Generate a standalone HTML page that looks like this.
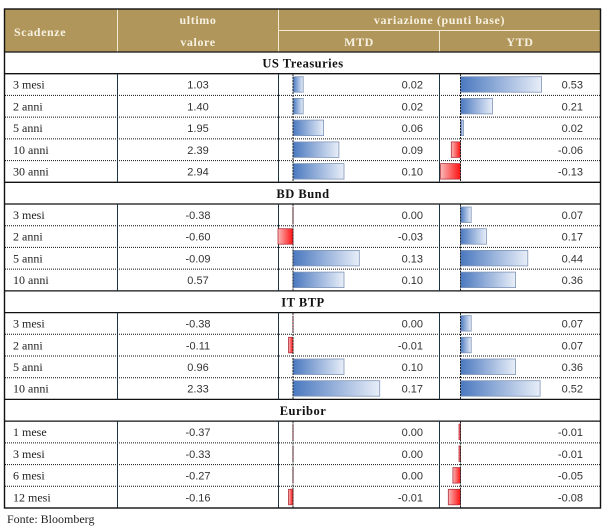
<!DOCTYPE html>
<html><head><meta charset="utf-8"><style>
html,body{margin:0;padding:0;background:#fff;}
svg{display:block;}
.h{font-family:"Liberation Serif",serif;font-weight:bold;font-size:12px;fill:#f7f1e2;letter-spacing:0.6px;}
.t{font-family:"Liberation Serif",serif;font-weight:bold;font-size:12.5px;fill:#111;letter-spacing:0.5px;}
.n{font-family:"Liberation Serif",serif;font-size:12px;fill:#222;}
.v{font-family:"Liberation Sans",sans-serif;font-size:11px;fill:#333;}
</style></head><body>
<svg width="605" height="531" viewBox="0 0 605 531" xmlns="http://www.w3.org/2000/svg">
<defs>
<linearGradient id="gb" x1="0" y1="0" x2="1" y2="0"><stop offset="0" stop-color="#4a78bf"/><stop offset="1" stop-color="#e8eef8"/></linearGradient>
<linearGradient id="gr" x1="1" y1="0" x2="0" y2="0"><stop offset="0" stop-color="#ff1010"/><stop offset="1" stop-color="#f8b8b8"/></linearGradient>
</defs>
<!-- header -->
<rect x="4.5" y="9" width="596" height="43" fill="#b0965a"/>
<g stroke="#f3ead2" stroke-width="1">
<line x1="117.5" y1="9" x2="117.5" y2="52"/>
<line x1="278.5" y1="9" x2="278.5" y2="52"/>
<line x1="278.5" y1="30.5" x2="600.5" y2="30.5"/>
<line x1="439.5" y1="30.5" x2="439.5" y2="52"/>
</g>
<text class="h" x="14" y="36">Scadenze</text>
<text class="h" x="198" y="24" text-anchor="middle">ultimo</text>
<text class="h" x="198" y="46" text-anchor="middle">valore</text>
<text class="h" x="439.5" y="24" text-anchor="middle">variazione (punti base)</text>
<text class="h" x="359" y="46" text-anchor="middle">MTD</text>
<text class="h" x="520" y="46" text-anchor="middle">YTD</text>

<!-- solid lines -->
<g stroke="#111" stroke-width="1.3">
<line x1="4.5" y1="52" x2="600.5" y2="52"/>
<line x1="4.5" y1="73.7" x2="600.5" y2="73.7"/>
<line x1="4.5" y1="182.3" x2="600.5" y2="182.3"/>
<line x1="4.5" y1="204" x2="600.5" y2="204"/>
<line x1="4.5" y1="290.9" x2="600.5" y2="290.9"/>
<line x1="4.5" y1="312.6" x2="600.5" y2="312.6"/>
<line x1="4.5" y1="399.4" x2="600.5" y2="399.4"/>
<line x1="4.5" y1="421.1" x2="600.5" y2="421.1"/>
</g>
<!-- dotted lines -->
<g stroke="#111" stroke-width="1" stroke-dasharray="1 1">
<line x1="5" y1="95.4" x2="600" y2="95.4"/>
<line x1="5" y1="117.1" x2="600" y2="117.1"/>
<line x1="5" y1="138.9" x2="600" y2="138.9"/>
<line x1="5" y1="160.6" x2="600" y2="160.6"/>
<line x1="5" y1="225.7" x2="600" y2="225.7"/>
<line x1="5" y1="247.4" x2="600" y2="247.4"/>
<line x1="5" y1="269.1" x2="600" y2="269.1"/>
<line x1="5" y1="334.3" x2="600" y2="334.3"/>
<line x1="5" y1="356" x2="600" y2="356"/>
<line x1="5" y1="377.7" x2="600" y2="377.7"/>
<line x1="5" y1="442.9" x2="600" y2="442.9"/>
<line x1="5" y1="464.6" x2="600" y2="464.6"/>
<line x1="5" y1="486.3" x2="600" y2="486.3"/>
</g>
<!-- vertical dividers -->
<g stroke="#1c3340" stroke-width="1">
<line x1="117.5" y1="73.7" x2="117.5" y2="182.3"/><line x1="278.5" y1="73.7" x2="278.5" y2="182.3"/><line x1="439.5" y1="73.7" x2="439.5" y2="182.3"/>
<line x1="117.5" y1="204" x2="117.5" y2="290.9"/><line x1="278.5" y1="204" x2="278.5" y2="290.9"/><line x1="439.5" y1="204" x2="439.5" y2="290.9"/>
<line x1="117.5" y1="312.6" x2="117.5" y2="399.4"/><line x1="278.5" y1="312.6" x2="278.5" y2="399.4"/><line x1="439.5" y1="312.6" x2="439.5" y2="399.4"/>
<line x1="117.5" y1="421.1" x2="117.5" y2="508"/><line x1="278.5" y1="421.1" x2="278.5" y2="508"/><line x1="439.5" y1="421.1" x2="439.5" y2="508"/>
</g>
<!-- bars blue -->
<g fill="url(#gb)" stroke="#8096b8" stroke-width="0.8">
<rect x="293" y="76.7" width="10.2" height="15.5"/><rect x="460.5" y="76.7" width="81.1" height="15.5"/>
<rect x="293" y="98.4" width="10.2" height="15.5"/><rect x="460.5" y="98.4" width="32.1" height="15.5"/>
<rect x="293" y="120.1" width="30.6" height="15.5"/><rect x="460.5" y="120.1" width="3.1" height="15.5"/>
<rect x="293" y="141.9" width="45.9" height="15.5"/>
<rect x="293" y="163.6" width="51" height="15.5"/>
<rect x="460.5" y="207" width="10.7" height="15.5"/>
<rect x="460.5" y="228.7" width="26" height="15.5"/>
<rect x="293" y="250.4" width="66.3" height="15.5"/><rect x="460.5" y="250.4" width="67.3" height="15.5"/>
<rect x="293" y="272.1" width="51" height="15.5"/><rect x="460.5" y="272.1" width="55.1" height="15.5"/>
<rect x="460.5" y="315.6" width="10.7" height="15.5"/>
<rect x="460.5" y="337.3" width="10.7" height="15.5"/>
<rect x="293" y="359" width="51" height="15.5"/><rect x="460.5" y="359" width="55.1" height="15.5"/>
<rect x="293" y="380.7" width="86.7" height="15.5"/><rect x="460.5" y="380.7" width="79.6" height="15.5"/>
</g>
<!-- bars red -->
<g fill="url(#gr)" stroke="#b0303c" stroke-width="0.8">
<rect x="451.3" y="141.9" width="9.2" height="15.5"/>
<rect x="440.6" y="163.6" width="19.9" height="15.5"/>
<rect x="278" y="228.7" width="15" height="15.5"/>
<rect x="288.5" y="337.3" width="4.5" height="15.5"/>
<rect x="459" y="424.1" width="1.5" height="15.5"/>
<rect x="459" y="445.9" width="1.5" height="15.5"/>
<rect x="452.9" y="467.6" width="7.6" height="15.5"/>
<rect x="288.5" y="489.3" width="4.5" height="15.5"/><rect x="448.3" y="489.3" width="12.2" height="15.5"/>
</g>
<!-- zero markers -->
<g stroke="#b02030" stroke-width="1">
<line x1="293" y1="207" x2="293" y2="222.5"/>
<line x1="293" y1="315.6" x2="293" y2="331.1"/>
<line x1="293" y1="424.1" x2="293" y2="439.6"/>
<line x1="293" y1="445.9" x2="293" y2="461.4"/>
<line x1="293" y1="467.6" x2="293" y2="483.1"/>
</g>
<!-- axes (on top) -->
<g stroke="#222" stroke-width="1" stroke-dasharray="2 1">
<line x1="293" y1="74" x2="293" y2="182"/><line x1="460.5" y1="74" x2="460.5" y2="182"/>
<line x1="293" y1="204.5" x2="293" y2="290.5"/><line x1="460.5" y1="204.5" x2="460.5" y2="290.5"/>
<line x1="293" y1="313" x2="293" y2="399"/><line x1="460.5" y1="313" x2="460.5" y2="399"/>
<line x1="293" y1="421.5" x2="293" y2="507.5"/><line x1="460.5" y1="421.5" x2="460.5" y2="507.5"/>
</g>
<!-- outer border -->
<rect x="4.5" y="9" width="596" height="499" fill="none" stroke="#111" stroke-width="1.4"/>

<!-- section titles -->
<text class="t" x="303" y="67.5" text-anchor="middle">US Treasuries</text>
<text class="t" x="303" y="197.8" text-anchor="middle">BD Bund</text>
<text class="t" x="303" y="306.4" text-anchor="middle">IT BTP</text>
<text class="t" x="303" y="414.9" text-anchor="middle">Euribor</text>

<!-- rows -->
<g class="n">
<text x="13" y="88.7">3 mesi</text>
<text x="13" y="110.4">2 anni</text>
<text x="13" y="132.1">5 anni</text>
<text x="13" y="153.9">10 anni</text>
<text x="13" y="175.6">30 anni</text>
<text x="13" y="219">3 mesi</text>
<text x="13" y="240.7">2 anni</text>
<text x="13" y="262.4">5 anni</text>
<text x="13" y="284.1">10 anni</text>
<text x="13" y="327.6">3 mesi</text>
<text x="13" y="349.3">2 anni</text>
<text x="13" y="371">5 anni</text>
<text x="13" y="392.7">10 anni</text>
<text x="13" y="436.1">1 mese</text>
<text x="13" y="457.9">3 mesi</text>
<text x="13" y="479.6">6 mesi</text>
<text x="13" y="501.3">12 mesi</text>
</g>
<g class="v" text-anchor="middle">
<text x="198" y="88.7">1.03</text>
<text x="198" y="110.4">1.40</text>
<text x="198" y="132.1">1.95</text>
<text x="198" y="153.9">2.39</text>
<text x="198" y="175.6">2.94</text>
<text x="198" y="219">-0.38</text>
<text x="198" y="240.7">-0.60</text>
<text x="198" y="262.4">-0.09</text>
<text x="198" y="284.1">0.57</text>
<text x="198" y="327.6">-0.38</text>
<text x="198" y="349.3">-0.11</text>
<text x="198" y="371">0.96</text>
<text x="198" y="392.7">2.33</text>
<text x="198" y="436.1">-0.37</text>
<text x="198" y="457.9">-0.33</text>
<text x="198" y="479.6">-0.27</text>
<text x="198" y="501.3">-0.16</text>
</g>
<g class="v" text-anchor="end">
<text x="423" y="88.7">0.02</text><text x="583" y="88.7">0.53</text>
<text x="423" y="110.4">0.02</text><text x="583" y="110.4">0.21</text>
<text x="423" y="132.1">0.06</text><text x="583" y="132.1">0.02</text>
<text x="423" y="153.9">0.09</text><text x="583" y="153.9">-0.06</text>
<text x="423" y="175.6">0.10</text><text x="583" y="175.6">-0.13</text>
<text x="423" y="219">0.00</text><text x="583" y="219">0.07</text>
<text x="423" y="240.7">-0.03</text><text x="583" y="240.7">0.17</text>
<text x="423" y="262.4">0.13</text><text x="583" y="262.4">0.44</text>
<text x="423" y="284.1">0.10</text><text x="583" y="284.1">0.36</text>
<text x="423" y="327.6">0.00</text><text x="583" y="327.6">0.07</text>
<text x="423" y="349.3">-0.01</text><text x="583" y="349.3">0.07</text>
<text x="423" y="371">0.10</text><text x="583" y="371">0.36</text>
<text x="423" y="392.7">0.17</text><text x="583" y="392.7">0.52</text>
<text x="423" y="436.1">0.00</text><text x="583" y="436.1">-0.01</text>
<text x="423" y="457.9">0.00</text><text x="583" y="457.9">-0.01</text>
<text x="423" y="479.6">0.00</text><text x="583" y="479.6">-0.05</text>
<text x="423" y="501.3">-0.01</text><text x="583" y="501.3">-0.08</text>
</g>
<text class="n" x="7" y="523">Fonte: Bloomberg</text>
</svg>
</body></html>
